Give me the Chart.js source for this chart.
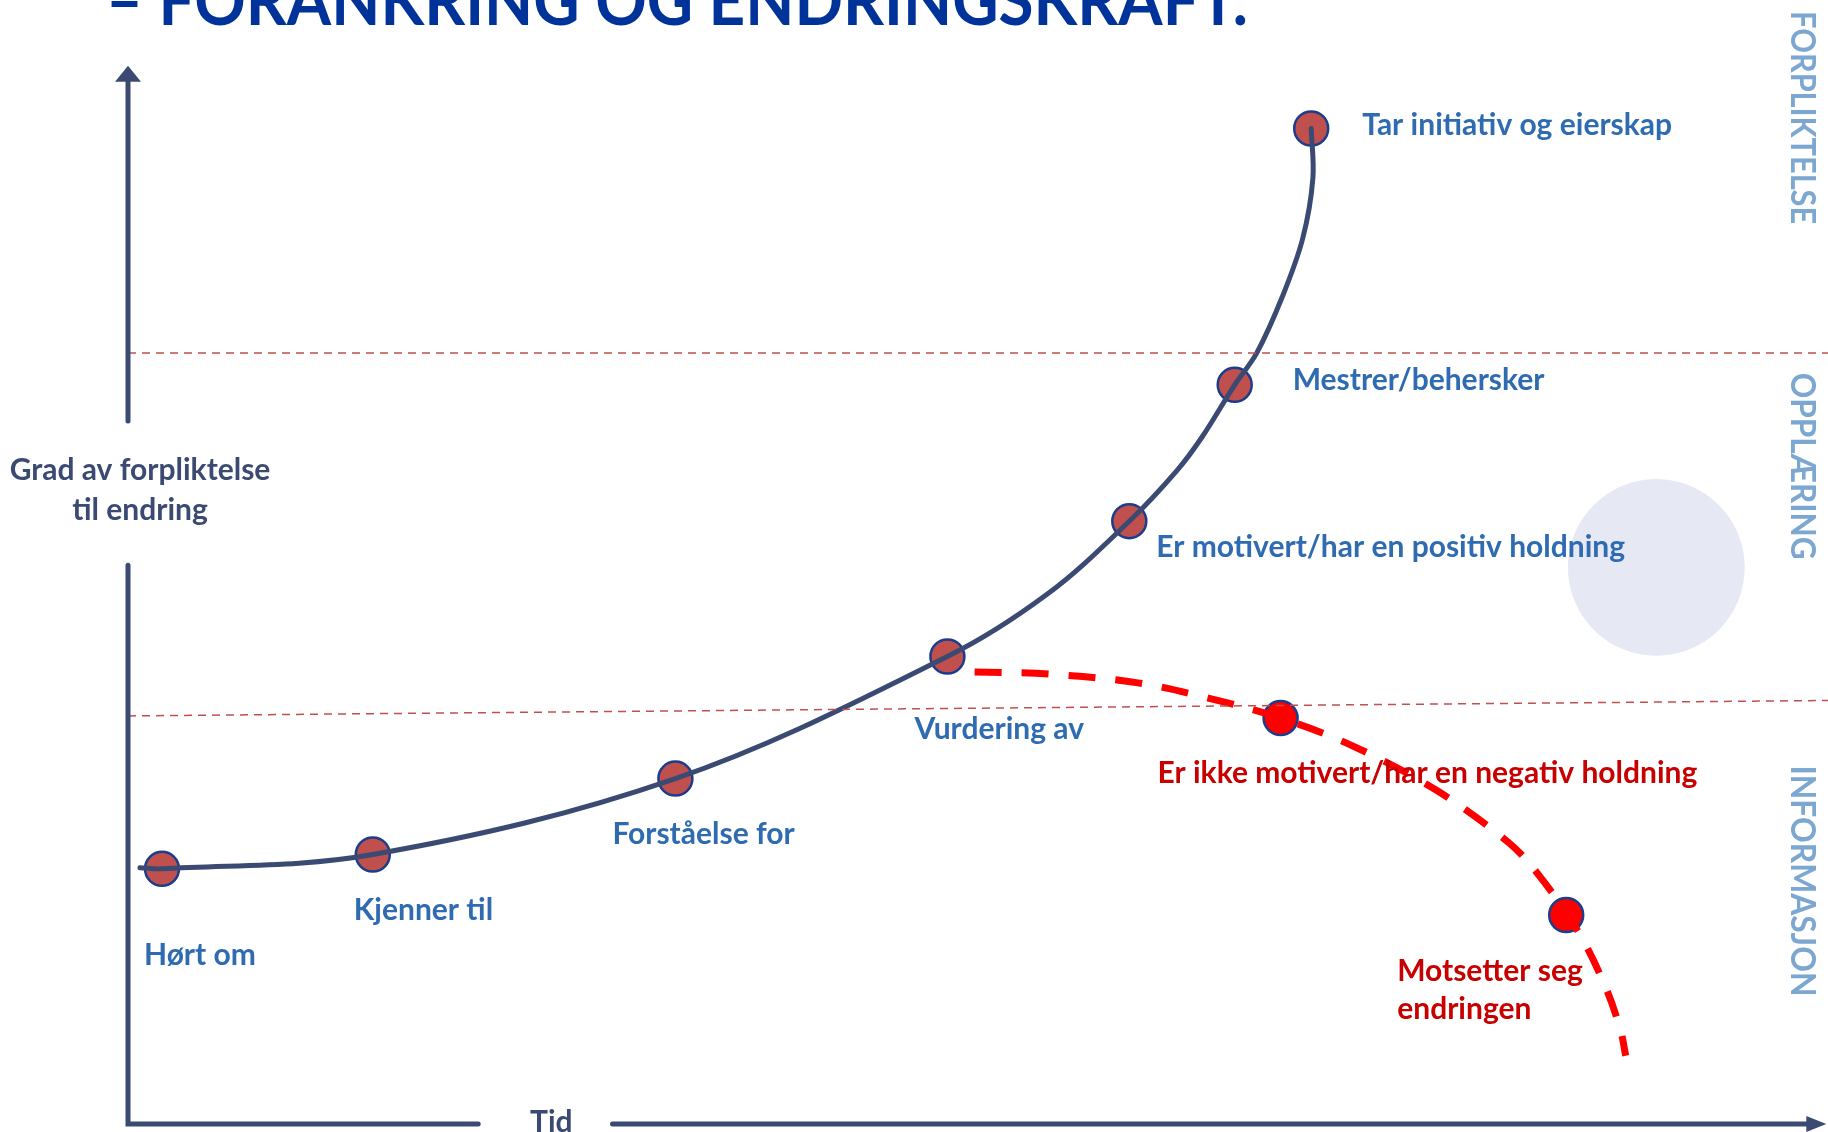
<!DOCTYPE html>
<html>
<head>
<meta charset="utf-8">
<title>Forankring og endringskraft</title>
<script src="https://cdn.jsdelivr.net/npm/chart.js@4/dist/chart.umd.min.js"></script>
<style>
  html, body { margin: 0; padding: 0; background: #ffffff; }
  canvas { display: block; }
</style>
</head>
<body>
<canvas id="curveChart" width="1828" height="1132"></canvas>
<script>
// stages on the main curve (time 0-100, commitment 0-100)
const stageNames = ['Hørt om', 'Kjenner til', 'Forståelse for', 'Vurdering av',
    'Er motivert/har en positiv holdning', 'Mestrer/behersker', 'Tar initiativ og eierskap'];
const stageTime = [2.0, 14.4, 32.2, 48.2, 58.9, 65.1, 69.6];
const stageCommitment = [23.2, 24.5, 31.4, 42.5, 54.8, 67.2, 90.5];

// the drawn curve itself
const curveTime = [0.7, 2.0, 14.4, 32.2, 48.2, 54.1, 58.9, 61.7, 63.2, 65.1, 66.4, 67.9, 69.1, 69.7, 69.6];
const curveCommitment = [23.3, 23.2, 24.5, 31.4, 42.5, 48.2, 54.8, 59.4, 62.5, 67.2, 70.1, 75.2, 80.5, 86.0, 90.5];

// resistance branch
const resistNames = ['Er ikke motivert/har en negativ holdning', 'Motsetter seg|endringen'];
const resistTime = [67.8, 84.6];
const resistCommitment = [36.9, 19.0];
const resistCurveTime = [49.8, 54.2, 59.4, 63.6, 67.8, 72.0, 76.9, 81.2, 83.0, 85.3, 86.9, 87.8, 88.1];
const resistCurveCommitment = [41.1, 40.9, 40.1, 38.7, 36.9, 34.4, 30.4, 25.6, 22.6, 17.5, 12.5, 8.5, 6.2];

// phase boundaries (commitment at left and right edge)
const phaseNames = ['INFORMASJON', 'OPPLÆRING', 'FORPLIKTELSE'];
const boundaryLow = [37.1, 38.5];
const boundaryHigh = [70.1, 70.1];

const toPoints = (xs, ys) => xs.map((x, i) => ({ x: x, y: ys[i] }));

const axisColor = '#3b4a72';
const labelBlue = '#2e6bb0';
const labelRed = '#c80000';
const FONT = 'Lato, "Open Sans", sans-serif';

function fitText(ctx, text, x, y, width) {
    const w = ctx.measureText(text).width;
    ctx.save();
    ctx.translate(x, y);
    ctx.scale(width / w, 1);
    ctx.fillText(text, 0, 0);
    ctx.restore();
}

// light circle behind the labels
const backdrop = {
    id: 'backdrop',
    beforeDatasetsDraw(chart) {
        const { ctx, scales: { x, y } } = chart;
        const r = x.getPixelForValue(5.2) - x.getPixelForValue(0);
        ctx.save();
        ctx.fillStyle = '#e6e8f4';
        ctx.beginPath();
        ctx.arc(x.getPixelForValue(89.9), y.getPixelForValue(50.6), r, 0, Math.PI * 2);
        ctx.fill();
        ctx.restore();
    }
};

// axes with arrows, axis titles, slide title, phase names
const decorations = {
    id: 'decorations',
    afterDatasetsDraw(chart) {
        const { ctx, scales: { x, y } } = chart;
        const x0 = x.getPixelForValue(0);
        const y0 = y.getPixelForValue(0);
        ctx.save();
        ctx.strokeStyle = axisColor;
        ctx.fillStyle = axisColor;
        ctx.lineWidth = 5;
        ctx.lineCap = 'round';

        // y axis, split around its title
        const yTop = y.getPixelForValue(96.2);
        ctx.beginPath();
        ctx.moveTo(x0, y.getPixelForValue(63.9));
        ctx.lineTo(x0, yTop + 12);
        ctx.moveTo(x0, y.getPixelForValue(50.8));
        ctx.lineTo(x0, y0);
        // x axis, split around "Tid"
        ctx.lineTo(x.getPixelForValue(20.6), y0);
        ctx.moveTo(x.getPixelForValue(28.5), y0);
        const xEnd = x.getPixelForValue(99.9);
        ctx.lineTo(xEnd - 14, y0);
        ctx.stroke();

        ctx.beginPath();
        ctx.moveTo(x0, yTop);
        ctx.lineTo(x0 - 13, yTop + 16);
        ctx.lineTo(x0 + 13, yTop + 16);
        ctx.closePath();
        ctx.fill();
        ctx.beginPath();
        ctx.moveTo(xEnd, y0);
        ctx.lineTo(xEnd - 20, y0 - 8);
        ctx.lineTo(xEnd - 20, y0 + 8);
        ctx.closePath();
        ctx.fill();

        ctx.font = 'bold 30px ' + FONT;
        ctx.textAlign = 'center';
        ctx.textBaseline = 'middle';
        ctx.fillText('Grad av forpliktelse', 140, y.getPixelForValue(59.4));
        ctx.fillText('til endring', 140, y.getPixelForValue(55.8));
        ctx.textBaseline = 'alphabetic';
        ctx.fillText('Tid', x.getPixelForValue(24.9), 1132);

        // slide title, mostly cut off at the top
        ctx.fillStyle = '#003399';
        ctx.font = 'bold 68px ' + FONT;
        ctx.textAlign = 'left';
        fitText(ctx, '– FORANKRING OG ENDRINGSKRAFT.', 106, 25, 1142);

        // phase names, rotated
        ctx.fillStyle = '#7ba7d1';
        ctx.font = 'bold 34px ' + FONT;
        ctx.textAlign = 'center';
        ctx.textBaseline = 'middle';
        const phaseCenter = [22.1, 59.8, 91.5];
        const phaseLength = [231, 187, 213];
        phaseNames.forEach((name, i) => {
            ctx.save();
            ctx.translate(1802, y.getPixelForValue(phaseCenter[i]));
            ctx.rotate(Math.PI / 2);
            fitText(ctx, name, 0, 0, phaseLength[i]);
            ctx.restore();
        });
        ctx.restore();
    }
};

// stage labels next to their points
const stageLabels = {
    id: 'stageLabels',
    afterDatasetsDraw(chart) {
        const { ctx } = chart;
        const offsets = [[-18, 87], [-19, 56], [-63, 56], [-33, 73], [27, 26], [58, -4], [51, -3]];
        const resistOffsets = [[-123, 55], [-169, 56]];
        ctx.save();
        ctx.font = 'bold 30px ' + FONT;
        ctx.textAlign = 'left';
        ctx.textBaseline = 'middle';
        const stageMeta = chart.getDatasetMeta(4).data;
        ctx.fillStyle = labelBlue;
        stageNames.forEach((name, i) => {
            const p = stageMeta[i];
            ctx.fillText(name, p.x + offsets[i][0], p.y + offsets[i][1]);
        });
        const resistMeta = chart.getDatasetMeta(5).data;
        ctx.fillStyle = labelRed;
        resistNames.forEach((name, i) => {
            const p = resistMeta[i];
            name.split('|').forEach((line, j) => {
                ctx.fillText(line, p.x + resistOffsets[i][0], p.y + resistOffsets[i][1] + j * 38);
            });
        });
        ctx.restore();
    }
};

const chartConfig = {
    type: 'line',
    data: {
        datasets: [
            {
                data: toPoints([0, 100], boundaryHigh),
                borderColor: '#c0504d', borderWidth: 1.5, borderDash: [8, 6],
                pointRadius: 0, tension: 0
            },
            {
                data: toPoints([0, 100], boundaryLow),
                borderColor: '#c0504d', borderWidth: 1.5, borderDash: [8, 6],
                pointRadius: 0, tension: 0
            },
            {
                data: toPoints(curveTime, curveCommitment),
                borderColor: axisColor, borderWidth: 5,
                pointRadius: 0, tension: 0.35, borderCapStyle: 'round'
            },
            {
                data: toPoints(resistCurveTime, resistCurveCommitment),
                borderColor: '#ff0000', borderWidth: 7, borderDash: [27, 20],
                pointRadius: 0, tension: 0.35
            },
            {
                data: toPoints(stageTime, stageCommitment),
                showLine: false,
                pointRadius: 17,
                pointBackgroundColor: '#c0504d',
                pointBorderColor: '#1c3c8c',
                pointBorderWidth: 2.5
            },
            {
                data: toPoints(resistTime, resistCommitment),
                showLine: false,
                pointRadius: 17,
                pointBackgroundColor: '#ff0000',
                pointBorderColor: '#1c3c8c',
                pointBorderWidth: 2.5
            }
        ]
    },
    options: {
        responsive: false,
        animation: false,
        clip: false,
        layout: { autoPadding: false, padding: { left: 128, right: 0, top: 24, bottom: 8 } },
        scales: {
            x: { type: 'linear', min: 0, max: 100, display: false },
            y: { type: 'linear', min: 0, max: 100, display: false }
        },
        plugins: {
            legend: { display: false },
            tooltip: { enabled: false }
        }
    },
    plugins: [backdrop, decorations, stageLabels]
};

let chartID = document.getElementById('curveChart');
let chart = new Chart(chartID, chartConfig);
</script>
</body>
</html>
